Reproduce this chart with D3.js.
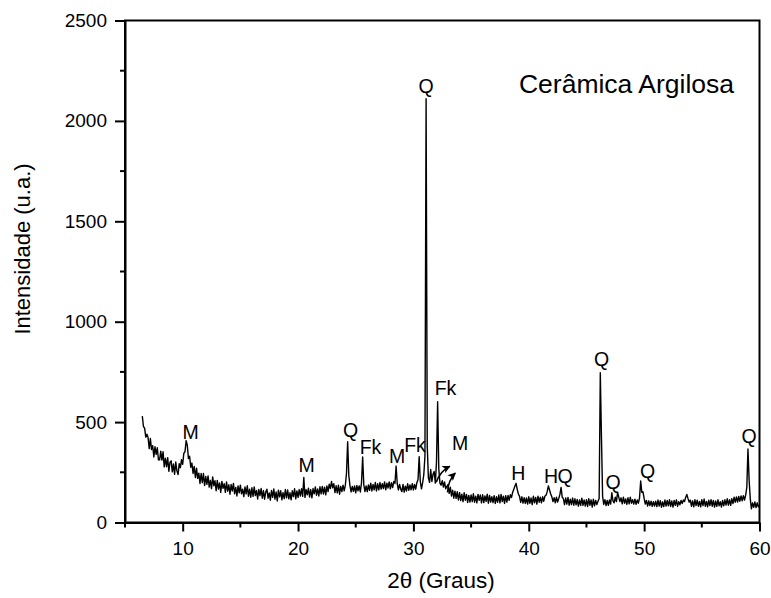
<!DOCTYPE html>
<html>
<head>
<meta charset="utf-8">
<script src="https://cdn.jsdelivr.net/npm/d3@7"></script>
<style>
  body { margin: 0; background: #fff; }
  svg { display: block; }
  text { font-family: "Liberation Sans", Arial, sans-serif; fill: #000; }
</style>
</head>
<body>
<svg id="chart" width="771" height="598"></svg>
<script>
// XRD scan: 2-theta from scanStart in steps of scanStep (degrees)
const scanStart = 6.5;
const scanStep = 0.1;

// Intensity (a.u.) per 0.1 degree, split by range
const counts06 = [ // 6.5 - 9.9
  530, 478, 470, 425, 440,
  423, 368, 418, 363, 382, 326, 377, 339, 372, 312,
  312, 355, 311, 352, 277, 320, 278, 323, 255, 300,
  307, 252, 291, 240, 301, 257, 239, 293, 273, 313
];
const counts10 = [ // 10.0 - 19.9
  290, 345, 352, 408, 385, 318, 330, 275, 296, 244,
  279, 224, 271, 220, 246, 194, 244, 199, 244, 184,
  229, 190, 232, 176, 210, 169, 227, 183, 208, 158,
  210, 166, 197, 150, 205, 170, 193, 150, 202, 156,
  188, 141, 189, 157, 195, 143, 175, 132, 182, 148,
  186, 143, 166, 129, 177, 142, 183, 131, 166, 126,
  173, 130, 177, 134, 160, 117, 165, 134, 169, 121,
  159, 116, 152, 166, 121, 147, 111, 160, 125, 167,
  116, 152, 107, 161, 128, 158, 113, 149, 119, 164,
  123, 162, 118, 148, 113, 158, 129, 168, 118, 157
];
const counts20 = [ // 20.0 - 29.9
  125, 164, 132, 168, 130, 224, 125, 164, 138, 171,
  127, 164, 123, 169, 143, 177, 136, 167, 132, 178,
  143, 180, 142, 176, 138, 182, 154, 191, 169, 205,
  173, 193, 149, 183, 148, 186, 141, 180, 154, 186,
  158, 186, 245, 402, 235, 184, 152, 180, 155, 182,
  148, 184, 158, 182, 152, 198, 326, 188, 154, 182,
  154, 187, 160, 196, 157, 190, 163, 199, 157, 193,
  163, 199, 166, 193, 169, 202, 163, 196, 172, 202,
  168, 198, 174, 205, 194, 281, 192, 162, 190, 166,
  154, 190, 151, 181, 157, 193, 160, 187, 163, 193
];
const counts30 = [ // 30.0 - 39.9
  162, 190, 166, 198, 214, 328, 202, 168, 198, 238,
  330, 2110, 380, 222, 200, 264, 204, 240, 254, 196,
  300, 602, 268, 196, 186, 208, 176, 202, 168, 180,
  189, 145, 176, 132, 161, 121, 156, 120, 153, 112,
  149, 109, 141, 104, 148, 111, 140, 100, 135, 102,
  137, 104, 143, 101, 131, 98, 140, 110, 137, 98,
  138, 99, 132, 105, 141, 96, 135, 102, 129, 99,
  134, 95, 128, 101, 137, 98, 140, 104, 131, 95,
  134, 102, 135, 110, 138, 124, 150, 165, 182, 195,
  165, 142, 130, 100, 128, 96, 124, 95, 122, 92
];
const counts40 = [ // 40.0 - 49.9
  128, 95, 122, 89, 131, 98, 125, 92, 131, 101,
  126, 98, 128, 106, 132, 136, 155, 182, 162, 142,
  128, 104, 124, 98, 126, 102, 120, 140, 175, 126,
  119, 89, 122, 92, 125, 86, 116, 89, 122, 86,
  118, 88, 115, 82, 112, 85, 121, 85, 112, 82,
  113, 80, 119, 86, 113, 77, 116, 83, 110, 89,
  106, 120, 746, 427, 130, 90, 114, 84, 110, 86,
  112, 92, 148, 108, 98, 126, 104, 150, 126, 104,
  123, 93, 126, 96, 117, 90, 123, 93, 126, 96,
  114, 92, 116, 90, 112, 96, 122, 207, 150, 153
];
const counts50 = [ // 50.0 - 60.0
  120, 92, 110, 82, 108, 84, 106, 80, 104, 82,
  106, 79, 112, 82, 109, 76, 103, 79, 112, 82,
  110, 83, 113, 80, 107, 77, 110, 86, 113, 80,
  104, 88, 110, 94, 112, 104, 125, 140, 120, 102,
  111, 81, 108, 78, 114, 84, 111, 81, 105, 78,
  114, 84, 117, 81, 105, 78, 111, 84, 114, 81,
  110, 77, 107, 80, 113, 83, 104, 77, 110, 83,
  113, 87, 118, 86, 114, 85, 119, 94, 126, 101,
  127, 102, 130, 106, 132, 108, 134, 112, 136, 175,
  366, 212, 118, 68, 98, 76, 102, 74, 98, 78,
  86
];

// Axis ticks
const xTicks = [10, 20, 30, 40, 50, 60];
const xMinorTicks = [5, 15, 25, 35, 45, 55];
const yTicks = [0, 500, 1000, 1500, 2000, 2500];
const yMinorTicks = [250, 750, 1250, 1750, 2250];

// Phase labels (M, Q, Fk, H) anchored at (2-theta, intensity)
const peakLabels   = ["M", "M", "Q", "Fk", "M", "Fk", "Q", "Fk", "M", "H", "H", "Q", "Q", "Q", "Q", "Q"];
const labelTheta   = [10.68, 20.75, 24.55, 26.28, 28.58, 30.14, 31.09, 32.78, 34.04, 39.09, 41.92, 43.14, 46.32, 47.30, 50.29, 59.09];
const labelCounts  = [416, 251, 426, 341, 298, 351, 2139, 635, 361, 212, 195, 195, 779, 167, 222, 396];

// Small arrows pointing to the M reflections beside the Fk peak
const arrowStart = [[31.98, 200], [32.95, 150]];
const arrowEnd   = [[33.15, 280], [33.63, 246]];

const sampleName = "Cerâmica Argilosa";

const counts = [].concat(counts06, counts10, counts20, counts30, counts40, counts50);
const scan = counts.map((c, i) => ({ theta: scanStart + i * scanStep, counts: c }));

const svg = d3.select("#chart");
const x = d3.scaleLinear().domain([5, 60]).range([125, 759.5]);
const y = d3.scaleLinear().domain([0, 2500]).range([522.5, 20.5]);

// Frame
svg.append("rect")
  .attr("x", x(5)).attr("y", y(2500))
  .attr("width", x(60) - x(5)).attr("height", y(0) - y(2500))
  .attr("fill", "none").attr("stroke", "#000").attr("stroke-width", 2);

// Bottom axis
const gx = svg.append("g").attr("transform", `translate(0,${y(0)})`)
  .call(d3.axisBottom(x).tickValues(xTicks).tickSize(9).tickSizeOuter(0).tickPadding(10).tickFormat(d3.format("d")));
gx.selectAll(".tick line").attr("stroke-width", 2);
gx.select(".domain").attr("stroke-width", 2);
gx.selectAll("text").attr("font-size", 19).attr("font-family", null);
gx.selectAll(".minor").data(xMinorTicks).enter().append("line")
  .attr("class", "minor")
  .attr("x1", d => x(d)).attr("x2", d => x(d))
  .attr("y1", 0).attr("y2", 5)
  .attr("stroke", "#000").attr("stroke-width", 2);

// Left axis
const gy = svg.append("g").attr("transform", `translate(${x(5)},0)`)
  .call(d3.axisLeft(y).tickValues(yTicks).tickSize(10).tickSizeOuter(0).tickPadding(8).tickFormat(d3.format("d")));
gy.selectAll(".tick line").attr("stroke-width", 2);
gy.select(".domain").attr("stroke-width", 2);
gy.selectAll("text").attr("font-size", 19).attr("font-family", null);
gy.selectAll(".minor").data(yMinorTicks).enter().append("line")
  .attr("class", "minor")
  .attr("x1", 0).attr("x2", -5)
  .attr("y1", d => y(d)).attr("y2", d => y(d))
  .attr("stroke", "#000").attr("stroke-width", 2);

// Diffraction pattern
svg.append("path")
  .datum(scan)
  .attr("fill", "none")
  .attr("stroke", "#000")
  .attr("stroke-width", 1.4)
  .attr("stroke-linejoin", "round")
  .attr("d", d3.line().x(d => x(d.theta)).y(d => y(d.counts)));

// Phase labels
svg.append("g").selectAll("text")
  .data(peakLabels)
  .enter().append("text")
  .attr("x", (d, i) => x(labelTheta[i]))
  .attr("y", (d, i) => y(labelCounts[i]))
  .attr("text-anchor", "middle")
  .attr("font-size", 19.5)
  .text(d => d);

// Arrows
const defs = svg.append("defs");
defs.append("marker")
  .attr("id", "head").attr("viewBox", "0 0 10 10")
  .attr("refX", 9).attr("refY", 5)
  .attr("markerWidth", 9).attr("markerHeight", 8)
  .attr("markerUnits", "userSpaceOnUse")
  .attr("orient", "auto")
  .append("path").attr("d", "M0,0 L10,5 L0,10 L2.5,5 z").attr("fill", "#000");
svg.append("g").selectAll("path")
  .data(arrowStart)
  .enter().append("path")
  .attr("fill", "none").attr("stroke", "#000").attr("stroke-width", 1.5)
  .attr("marker-end", "url(#head)")
  .attr("d", (s, i) => {
    const e = arrowEnd[i];
    const x0 = x(s[0]), y0 = y(s[1]), x1 = x(e[0]), y1 = y(e[1]);
    const cx = (x0 + x1) / 2 - 3, cy = (y0 + y1) / 2 - 3;
    return `M${x0},${y0} Q${cx},${cy} ${x1},${y1}`;
  });

// Sample name
svg.append("text")
  .attr("x", 734).attr("y", 93)
  .attr("text-anchor", "end")
  .attr("font-size", 26.5)
  .text(sampleName);

// Axis titles
svg.append("text")
  .attr("x", 441).attr("y", 588)
  .attr("text-anchor", "middle")
  .attr("font-size", 22.5)
  .text("2θ (Graus)");
svg.append("text")
  .attr("transform", "translate(30,249) rotate(-90)")
  .attr("text-anchor", "middle")
  .attr("font-size", 22)
  .text("Intensidade (u.a.)");
</script>
</body>
</html>
